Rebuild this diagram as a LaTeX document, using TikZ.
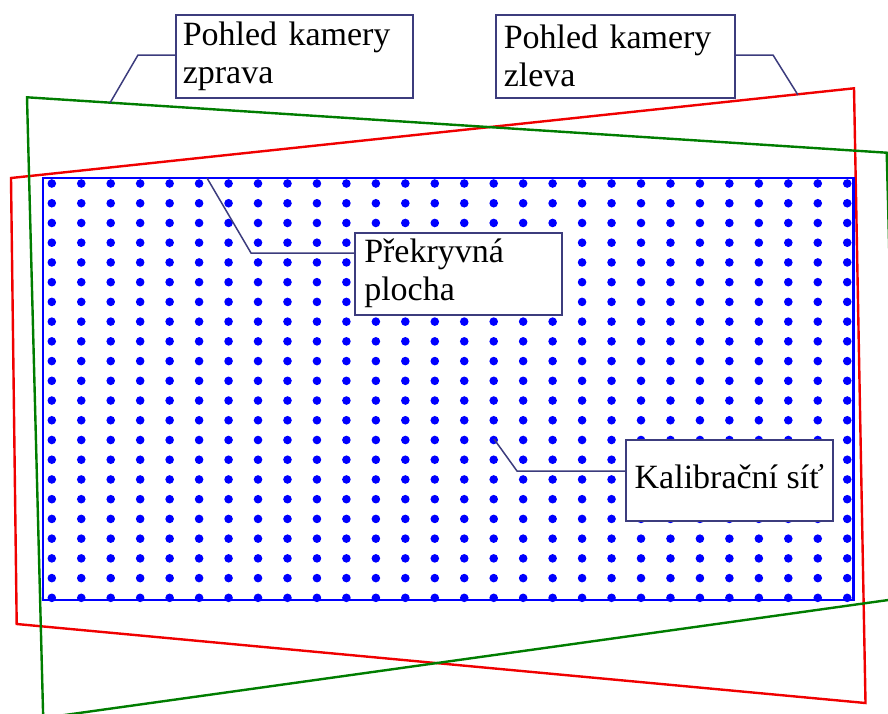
\documentclass[tikz,border=0pt]{standalone}
\usepackage{fontspec}
\setmainfont{Liberation Serif}
\definecolor{navy}{RGB}{60,60,125}
\definecolor{gridblue}{RGB}{0,0,255}
\definecolor{camred}{RGB}{240,0,0}
\definecolor{camgreen}{RGB}{0,125,0}
\begin{document}
\begin{tikzpicture}[x=1pt,y=-1pt,
  lbl/.style={draw=navy, line width=1.5pt, fill=white, font=\fontsize{34}{38}\selectfont,
              align=left, inner xsep=7pt, inner ysep=0pt, anchor=north west},
  leader/.style={draw=navy, line width=1.5pt},
  redview/.style={draw=camred, line width=2.4pt, line join=miter},
  greenview/.style={draw=camgreen, line width=2.4pt, line join=miter},
  gridframe/.style={draw=gridblue, line width=2.7pt},
  gdot/.style={fill=gridblue}
]
\useasboundingbox (0,0) rectangle (888,713);
\clip (0,0) rectangle (888,713);
% camera views
\draw[redview] (11,178) -- (854,88.3) -- (865.5,703) -- (16.7,624) -- cycle;
\draw[greenview] (27,97.3) -- (886.7,152.7) -- (898.3,598.6) -- (43.2,718) -- cycle;
% calibration grid
\draw[gridframe] (43,178) rectangle (853.5,600);
\foreach \i in {0,...,27}{
  \foreach \j in {0,...,21}{
    \fill[gdot] ({51.8+29.46*\i},{183.5+19.73*\j}) circle (4.3pt);
  }
}
% labels
\node[lbl, text width=223pt, minimum height=83pt] (zp) at (175,14) {Pohled kamery\\zprava};
\node[lbl, text width=223pt, minimum height=83pt, inner xsep=8pt] (zl) at (495,14) {Pohled kamery\\zleva};
\node[lbl, text width=188pt, minimum height=82pt, inner xsep=9.5pt] (pp) at (354,232) {Překryvná\\plocha};
\node[lbl, minimum width=207pt, minimum height=81pt, inner xsep=2pt, text depth=7pt] (ks) at (625,439) {Kalibrační síť};
% leader lines
\coordinate (zp1) at (138,55);
\coordinate (zp2) at (110,103);
\coordinate (zl1) at (773,55);
\coordinate (zl2) at (798,95);
\coordinate (pp1) at (251,253);
\coordinate (pp2) at (207,178);
\coordinate (ks1) at (517,471);
\coordinate (ks2) at (494,439);
\draw[leader] (zp.west |- zp1) -- (zp1) -- (zp2);
\draw[leader] (zl.east |- zl1) -- (zl1) -- (zl2);
\draw[leader] (pp.west |- pp1) -- (pp1) -- (pp2);
\draw[leader] (ks.west |- ks1) -- (ks1) -- (ks2);
\end{tikzpicture}
\end{document}
